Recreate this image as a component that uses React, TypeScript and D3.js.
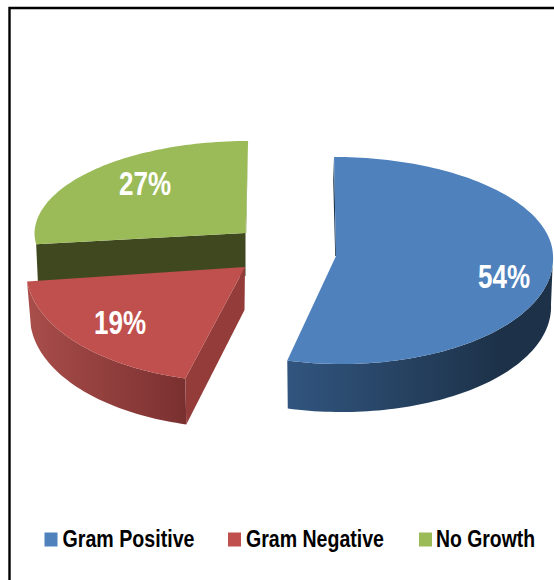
import React from "react";
import * as d3 from "d3";

const categories = ["Gram Positive", "Gram Negative", "No Growth"];
const shares = [54, 19, 27];
const shareLabels = ["54%", "19%", "27%"];

const topColors = ["#4f81bd", "#c0504d", "#9bbb59"];
const wallDark = ["#1d3249", "#7a3030", "#404820"];
const wallLight = ["#31557f", "#a84d4a", "#404820"];

// Oblique view of each pulled-out wedge: tip position, radii toward the back and front of the disc.
const wedgeViews = [
  { cx: 336, cy: 256, rx: 217, back: 99, front: 108, skewBack: 0.02, skewFront: 0.05, depth: 48, inset: 2 },
  { cx: 245, cy: 267, rx: 219, back: 90, front: 115, skewBack: 0, skewFront: -0.047, depth: 46, inset: 4 },
  { cx: 245.5, cy: 233, rx: 211, back: 92, front: 90, skewBack: -0.028, skewFront: 0, depth: 43, inset: 2 },
];
const labelSpots = [
  { x: 504, y: 288 },
  { x: 120, y: 334 },
  { x: 145, y: 195 },
];
const legendSwatchX = [44.5, 228, 419];
const legendTextX = [62.5, 246, 436];
const legendTextW = [132, 138, 99];

type View = (typeof wedgeViews)[number];

// Projects a pie angle and radius fraction onto the tilted disc.
function project(v: View, angle: number, r = 1, drop = 0): [number, number] {
  const u = Math.sin(angle) * r;
  const w = -Math.cos(angle) * r;
  const dy = (w > 0 ? v.front : v.back) * w;
  const skew = w > 0 ? v.skewFront : v.skewBack;
  const shrink = drop > 0 ? (v.rx - v.inset) / v.rx : 1;
  return [v.cx + v.rx * shrink * u + skew * dy, v.cy + dy + drop];
}

const outline = d3.line<[number, number]>();

function rim(v: View, a0: number, a1: number, drop = 0): [number, number][] {
  const n = Math.max(2, Math.ceil(Math.abs(a1 - a0) * 40));
  const angle = d3.scaleLinear().domain([0, n]).range([a0, a1]);
  return d3.range(n + 1).map((i) => project(v, angle(i), 1, drop));
}

export default function App() {
  const arcs = d3
    .pie<number>()
    .sort(null)
    .value((d) => d)(shares);

  const HALF = Math.PI;

  return (
    <svg
      width={554}
      height={580}
      viewBox="0 0 554 580"
      style={{ position: "absolute", left: 0, top: 0, background: "#fff" }}
    >
      <defs>
        {categories.map((_, i) => (
          <linearGradient key={i} id={`wall-${i}`} gradientUnits="userSpaceOnUse"
            x1={i === 0 ? 287 : 30} x2={i === 0 ? 500 : 186} y1={0} y2={0}>
            <stop offset="0" stopColor={wallLight[i]} />
            <stop offset="1" stopColor={wallDark[i]} />
          </linearGradient>
        ))}
      </defs>

      {/* frame: only the top and left rules show */}
      <path d="M9.5 580 V8 H554" fill="none" stroke="#000" strokeWidth={2.4} />

      {/* No Growth */}
      {(() => {
        const v = wedgeViews[2];
        const a = arcs[2];
        const p0 = project(v, a.startAngle);
        const p1 = project(v, a.startAngle, 1, v.depth);
        const tipLow: [number, number] = [v.cx, v.cy + v.depth];
        const tip: [number, number] = [v.cx, v.cy];
        const endTop = project(v, a.endAngle);
        return (
          <g>
            <path d={outline([p0, tip, tipLow, p1])! + "Z"} fill={wallDark[2]} />
            <path d={outline([tip, ...rim(v, a.startAngle, a.endAngle)])! + "Z"} fill={topColors[2]} />
            <path d={outline([endTop, tip, [v.cx + 0.7, v.cy], [endTop[0], endTop[1]]])! + "Z"} fill="#7d9a47" />
          </g>
        );
      })()}

      {/* Gram Negative */}
      {(() => {
        const v = wedgeViews[1];
        const a = arcs[1];
        const tip: [number, number] = [v.cx, v.cy];
        const tipLow: [number, number] = [v.cx - 0.5, v.cy + v.depth - 3];
        const p0 = project(v, a.startAngle);
        const p0Low = project(v, a.startAngle, 1, v.depth);
        const outer = rim(v, a.startAngle, a.endAngle);
        const outerLow = rim(v, a.endAngle, a.startAngle, v.depth);
        return (
          <g>
            <path d={outline([...outer, ...outerLow])! + "Z"} fill={`url(#wall-1)`} />
            <path d={outline([tip, p0, p0Low, tipLow])! + "Z"} fill="#943c39" />
            <path d={outline([tip, ...outer])! + "Z"} fill={topColors[1]} />
          </g>
        );
      })()}

      {/* Gram Positive */}
      {(() => {
        const v = wedgeViews[0];
        const a = arcs[0];
        const tip: [number, number] = [v.cx, v.cy];
        const outer = rim(v, a.startAngle, a.endAngle);
        const wall = rim(v, HALF / 2, a.endAngle);
        const wallLow = rim(v, a.endAngle, HALF / 2, v.depth);
        const backTop = project(v, a.startAngle);
        return (
          <g>
            <path d={outline([backTop, [backTop[0] - 0.8, v.cy - 75], [v.cx - 0.8, v.cy], tip])! + "Z"} fill={wallDark[0]} />
            <path d={outline([...wall, ...wallLow])! + "Z"} fill={`url(#wall-0)`} />
            <path d={outline([tip, ...outer])! + "Z"} fill={topColors[0]} />
          </g>
        );
      })()}

      {/* share labels */}
      {shareLabels.map((t, i) => (
        <text
          key={t}
          x={labelSpots[i].x}
          y={labelSpots[i].y}
          textAnchor="middle"
          fontFamily="Liberation Sans"
          fontWeight={700}
          fontSize={33}
          fill="#fff"
          textLength={52}
          lengthAdjust="spacingAndGlyphs"
        >
          {t}
        </text>
      ))}

      {/* legend */}
      {categories.map((c, i) => (
        <g key={c}>
          <rect x={legendSwatchX[i]} y={532.5} width={13} height={14} fill={topColors[i]} />
          <text
            x={legendTextX[i]}
            y={546.5}
            fontFamily="Liberation Sans"
            fontWeight={700}
            fontSize={23.5}
            fill="#000"
            textLength={legendTextW[i]}
            lengthAdjust="spacingAndGlyphs"
          >
            {c}
          </text>
        </g>
      ))}
    </svg>
  );
}
